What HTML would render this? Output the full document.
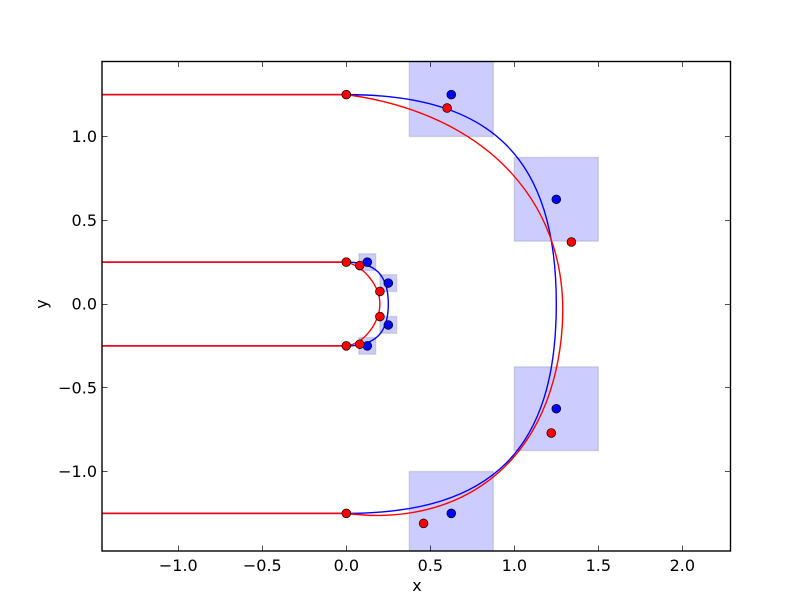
<!DOCTYPE html>
<html>
<head>
<meta charset="utf-8">
<title>Bezier paths with control points</title>
<style>
html,body{margin:0;padding:0;background:#fff;}
svg{display:block;}
text{font-family:"DejaVu Sans","Liberation Sans",sans-serif;fill:#000;}
</style>
</head>
<body>
<svg id="chart" width="812" height="612" viewBox="0 0 812 612" xmlns="http://www.w3.org/2000/svg">
<defs><clipPath id="plot-clip"><rect x="102" y="61.5" width="628.5" height="489.5"></rect></clipPath></defs>
<g id="plot" clip-path="url(#plot-clip)"></g>
<g id="axes"></g>
<text x="417" y="591" font-size="16" text-anchor="middle">x</text>
<text x="0" y="0" font-size="16" text-anchor="middle" transform="translate(47,304) rotate(-90)">y</text>
</svg>
<script>
var xTicks = [-1.0, -0.5, 0.0, 0.5, 1.0, 1.5, 2.0];
var xTickLabels = ['\u22121.0', '\u22120.5', '0.0', '0.5', '1.0', '1.5', '2.0'];
var yTicks = [-1.0, -0.5, 0.0, 0.5, 1.0];
var yTickLabels = ['\u22121.0', '\u22120.5', '0.0', '0.5', '1.0'];

var outerStartY = 1.25;
var innerStartY = 0.25;
var outerBlueX = [0.625, 1.25, 1.25, 0.625];
var outerBlueY = [1.25, 0.625, -0.625, -1.25];
var innerBlueX = [0.125, 0.25, 0.25, 0.125];
var innerBlueY = [0.25, 0.125, -0.125, -0.25];
var outerRedX = [0.60, 1.34, 1.22, 0.46];
var outerRedY = [1.17, 0.37, -0.77, -1.31];
var innerRedX = [0.08, 0.20, 0.20, 0.08];
var innerRedY = [0.23, 0.075, -0.075, -0.24];
var outerBoxHalf = 0.25;
var innerBoxHalf = 0.05;

var xMin = -1.46;
var handleScale = 1.39;
var NS = 'http://www.w3.org/2000/svg';
var plot = document.getElementById('plot');
var axes = document.getElementById('axes');
var LEFT = 102, RIGHT = 730.5, TOP = 61.5, BOTTOM = 551;

function sx(v) { return 346.3 + v * 168; }
function sy(v) { return 304 - v * 167.5; }
function make(tag, attrs, parent) {
  var el = document.createElementNS(NS, tag);
  for (var k in attrs) { el.setAttribute(k, attrs[k]); }
  parent.appendChild(el);
  return el;
}
function pt(x, y) { return sx(x) + ' ' + sy(y); }
function handle(ax, ay, bx, by) {
  return pt(ax + handleScale * (bx - ax), ay + handleScale * (by - ay));
}
function bezierPath(xs, ys, startY) {
  var ex = (xs[1] + xs[2]) / 2, ey = (ys[1] + ys[2]) / 2;
  return 'M' + pt(xMin, startY) + ' L' + pt(0, startY) +
    ' C' + handle(0, startY, xs[0], ys[0]) + ' ' + handle(ex, ey, xs[1], ys[1]) + ' ' + pt(ex, ey) +
    ' C' + handle(ex, ey, xs[2], ys[2]) + ' ' + handle(0, -startY, xs[3], ys[3]) + ' ' + pt(0, -startY) +
    ' L' + pt(xMin, -startY);
}
function drawBoxes(xs, ys, half) {
  for (var i = 0; i < xs.length; i++) {
    var r = make('rect', {
      x: sx(xs[i] - half), y: sy(ys[i] + half),
      width: sx(xs[i] + half) - sx(xs[i] - half),
      height: sy(ys[i] - half) - sy(ys[i] + half),
      fill: '#0000ff', 'fill-opacity': 0.2,
      stroke: '#000000', 'stroke-opacity': 0.12, 'stroke-width': 1.39
    }, plot);
    
    
  }
}
function drawCurve(xs, ys, startY, color) {
  var p = make('path', { d: bezierPath(xs, ys, startY), fill: 'none', stroke: color, 'stroke-width': 1.39 }, plot);
  
  
}
function drawDots(xs, ys, color) {
  for (var i = 0; i < xs.length; i++) {
    var c = make('circle', { cx: sx(xs[i]), cy: sy(ys[i]), r: 4.4, fill: color, stroke: '#000', 'stroke-width': 0.7 }, plot);
    
    
  }
}

drawBoxes(outerBlueX, outerBlueY, outerBoxHalf);
drawBoxes(innerBlueX, innerBlueY, innerBoxHalf);
drawCurve(outerBlueX, outerBlueY, outerStartY, '#0000ff');
drawCurve(innerBlueX, innerBlueY, innerStartY, '#0000ff');
drawDots(outerBlueX, outerBlueY, '#0000ff');
drawDots(innerBlueX, innerBlueY, '#0000ff');
drawCurve(outerRedX, outerRedY, outerStartY, '#ff0000');
drawCurve(innerRedX, innerRedY, innerStartY, '#ff0000');
drawDots(outerRedX, outerRedY, '#ff0000');
drawDots(innerRedX, innerRedY, '#ff0000');
drawDots([0, 0, 0, 0], [outerStartY, innerStartY, -innerStartY, -outerStartY], '#ff0000');

var frame = make('rect', { x: LEFT, y: TOP, width: RIGHT - LEFT, height: BOTTOM - TOP, fill: 'none', stroke: '#000', 'stroke-width': 1.39 }, axes);



xTicks.forEach(function (v, i) {
  var x = Math.round(sx(v)) + 0.5;
  var t1 = make('line', { x1: x, x2: x, y1: BOTTOM, y2: BOTTOM - 5.5, stroke: '#000', 'stroke-width': 0.7 }, axes);
  
  
  var t2 = make('line', { x1: x, x2: x, y1: TOP, y2: TOP + 5.5, stroke: '#000', 'stroke-width': 0.7 }, axes);
  
  
  var l = make('text', { x: sx(v), y: 571, 'font-size': 16, 'text-anchor': 'middle' }, axes);
  l.textContent = xTickLabels[i];
  
  
});
yTicks.forEach(function (v, i) {
  var y = Math.floor(sy(v)) + 0.5;
  var t1 = make('line', { x1: LEFT, x2: LEFT + 5.5, y1: y, y2: y, stroke: '#000', 'stroke-width': 0.7 }, axes);
  
  
  var t2 = make('line', { x1: RIGHT, x2: RIGHT - 5.5, y1: y, y2: y, stroke: '#000', 'stroke-width': 0.7 }, axes);
  
  
  var l = make('text', { x: 97, y: sy(v) + 5.5, 'font-size': 16, 'text-anchor': 'end' }, axes);
  l.textContent = yTickLabels[i];
  
  
});
</script>
</body>
</html>
